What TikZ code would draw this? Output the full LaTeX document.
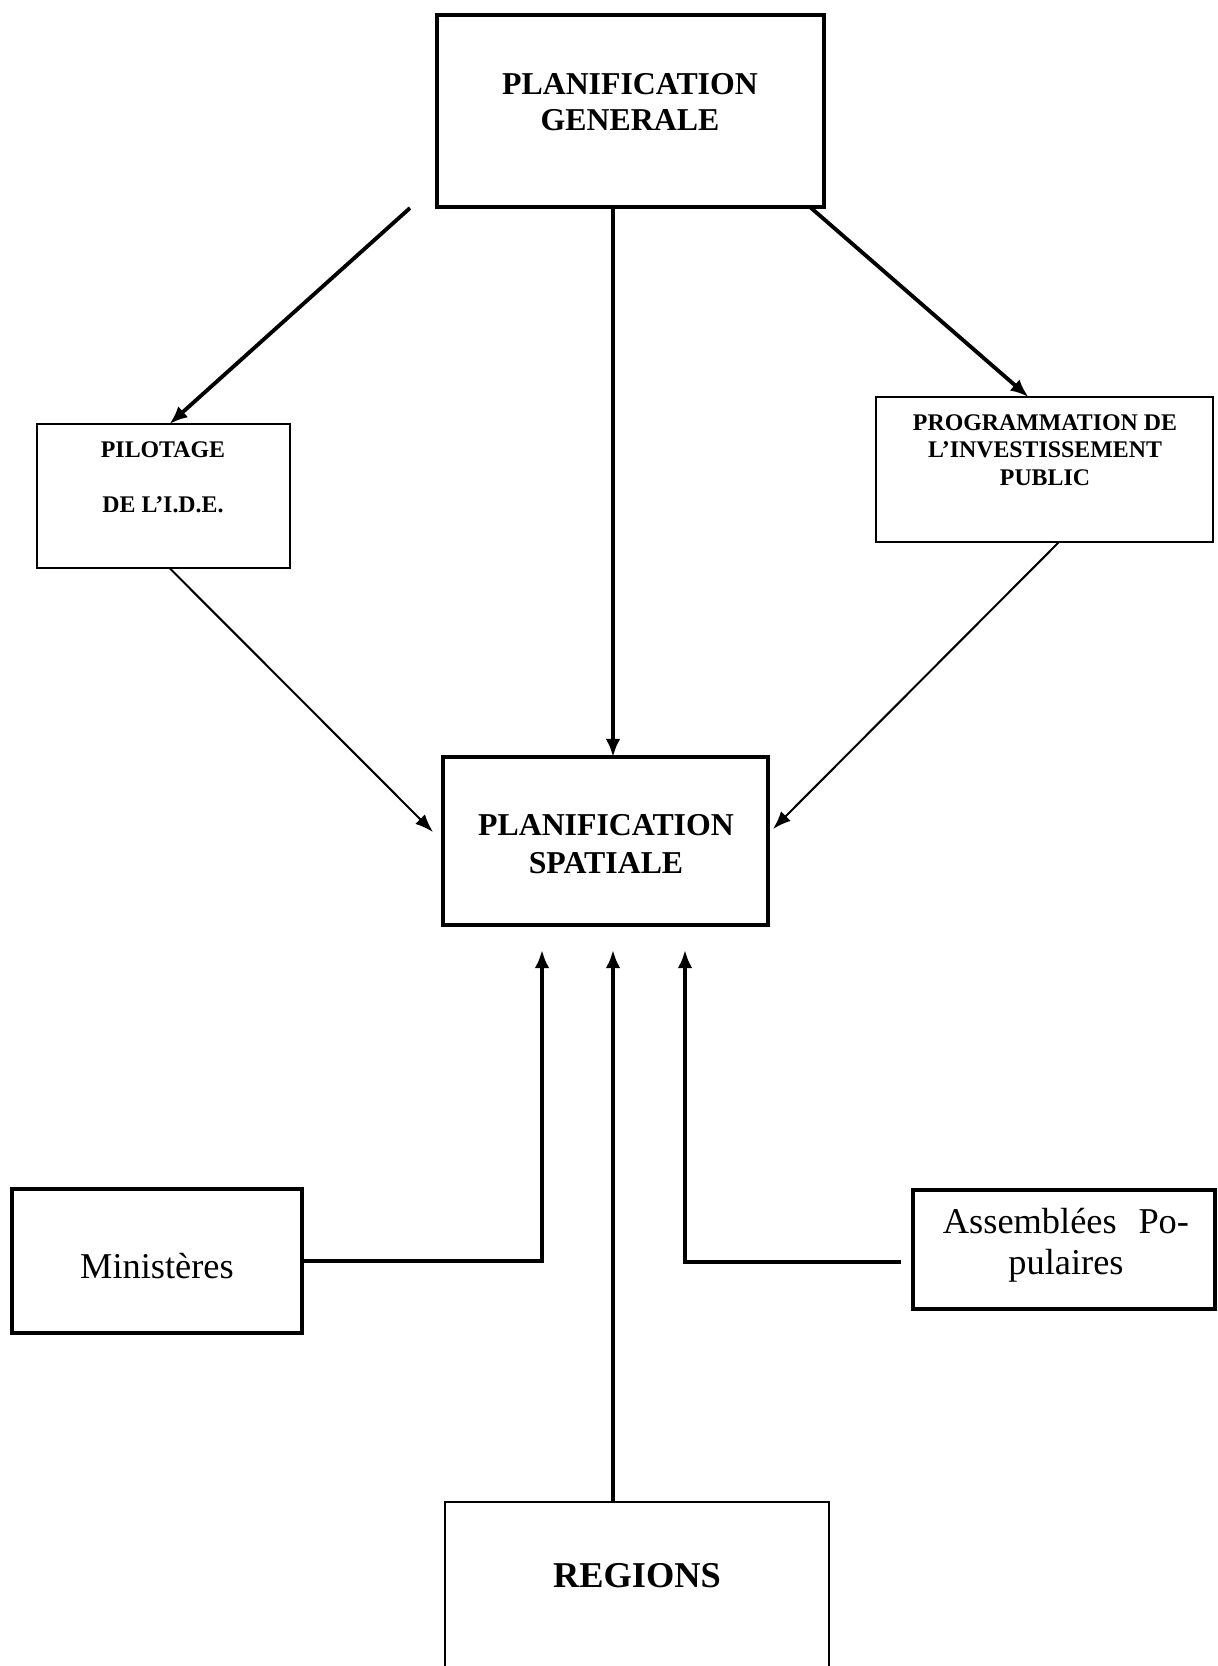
\documentclass[tikz,border=0pt]{standalone}
\usepackage{fontspec}
\setmainfont{Liberation Serif}
\usetikzlibrary{arrows.meta,positioning,calc}

\begin{document}
\begin{tikzpicture}[x=0.44pt, y=-0.44pt,
    box/.style={rectangle, draw, line width=#1, inner sep=0pt, outer sep=0pt},
    size/.style 2 args={minimum width=#1*0.44pt, minimum height=#2*0.44pt},
    heavy/.style={line width=1.7pt, -{Latex[length=8pt,width=6.5pt]}},
    light/.style={line width=0.9pt, -{Latex[length=8pt,width=6pt]}}
]

\path[use as bounding box, clip] (0,0) rectangle (1218,1666);

% Boxes
\node[box=2pt, size={387}{192}] (gen) at (630.5, 111) {};
\node[box=0.8pt, size={253}{144}] (pil) at (163.5, 496) {};
\node[box=1.1pt, size={337}{145}] (prog) at (1044.5, 469.5) {};
\node[box=2pt, size={325}{168}] (spat) at (605.5, 841) {};
\node[box=1.6pt, size={290}{144}] (mini) at (157, 1261) {};
\node[box=1.4pt, size={302}{119}] (assem) at (1064, 1249.5) {};
\node[box=0.8pt, size={384}{220}] (reg) at (637, 1612) {};

% Texts
\node[font=\fontsize{14}{15.5}\selectfont\bfseries, align=center] (gen-txt) at (630, 102) {PLANIFICATION\\GENERALE};
\node[font=\fontsize{10.5}{12}\selectfont\bfseries, align=center] (pil-txt) at (163, 477) {PILOTAGE\\[12pt]DE L’I.D.E.};
\node[font=\fontsize{10.5}{12}\selectfont\bfseries, align=center] (prog-txt) at (1045, 450) {PROGRAMMATION DE\\L’INVESTISSEMENT\\PUBLIC};
\node[font=\fontsize{14}{16.7}\selectfont\bfseries, align=center] (spat-txt) at (606, 844) {PLANIFICATION\\SPATIALE};
\node[font=\fontsize{16}{19}\selectfont] (mini-txt) at (157, 1266) {Ministères};
\node[font=\fontsize{16}{18}\selectfont, align=center] (assem-txt) at (1066, 1245) {Assemblées\hspace{0.6em}Po-\\pulaires};
\node[font=\fontsize{16}{19}\selectfont\bfseries] (reg-txt) at (637, 1576) {REGIONS};

% Free ends
\coordinate (mid) at (613, 0);
\coordinate (gl) at (410, 208);
\coordinate (lin) at (542, 950);
\coordinate (cin) at (613, 950);
\coordinate (rin) at (685, 950);
\coordinate (ae) at ($(assem.west)+(-12, 12.5)$);

% Top flows
\draw[heavy] (gen.south -| mid) -- (spat.north -| mid);
\draw[heavy] (gl) -- ($(pil.north)+(6, 0)$);
\draw[heavy] ($(gen.south east)+(-14, 0)$) -- ($(prog.north)+(-16, 0)$);
\draw[light] ($(pil.south)+(6, 0)$) -- ($(spat.west)+(-10, -9)$);
\draw[light] ($(prog.south)+(14.5, 0)$) -- ($(spat.east)+(5, -12)$);

% Bottom flows
\draw[heavy] (mini.east) -| (lin);
\draw[heavy] (ae) -| (rin);
\draw[heavy] (reg.north -| cin) -- (cin);

\end{tikzpicture}
\end{document}
